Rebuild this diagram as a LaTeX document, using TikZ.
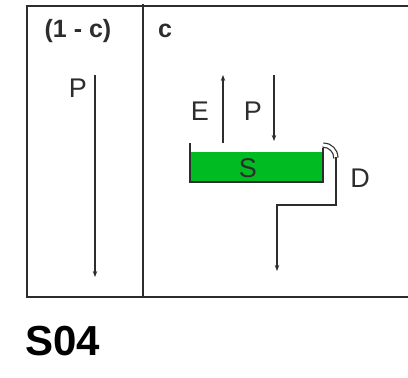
\documentclass[tikz,border=0pt]{standalone}
\usepackage{fontspec}
\setmainfont{Liberation Sans}
\usetikzlibrary{arrows.meta}
\definecolor{tankgreen}{RGB}{0,187,34}
\definecolor{inkgray}{RGB}{45,45,45}

\begin{document}
\begin{tikzpicture}[x=1pt, y=-1pt,
  frame/.style={inkgray, line width=2pt},
  flow/.style={inkgray, line width=1.4pt, -{Stealth[length=6pt, width=4.5pt]}},
  lbl/.style={text=inkgray, inner sep=0pt, font=\fontsize{27}{27}\selectfont},
  head/.style={lbl, font=\fontsize{25}{25}\selectfont\bfseries}]
  \useasboundingbox (0,0) rectangle (408,378);
  % frame
  \draw[frame] (408,6) -- (27,6) -- (27,297) -- (408,297);
  \draw[inkgray, line width=1.6pt] (143,4) -- (143,297);
  % headings
  \node[head] (oneminus) at (78,31) {(1 - c)};
  \node[head, anchor=west] (cfrac) at (158,31) {c};
  % left column
  \coordinate (ptop) at (95,75);
  \coordinate (pbot) at (95,277);
  \draw[flow] (ptop) -- (pbot);
  \node[lbl] (pleft) at (78,88) {P};
  % store
  \fill[tankgreen] (190,152) rectangle (323,182);
  \draw[inkgray, line width=1.5pt] (190,143) -- (190,182) -- (323,182) -- (323,148);
  \node[lbl] (store) at (248,168) {S};
  % evaporation and rain
  \coordinate (etop) at (223,75);
  \coordinate (ebot) at (223,143);
  \draw[flow] (ebot) -- (etop);
  \node[lbl] (evap) at (200,111) {E};
  \coordinate (rtop) at (274,75);
  \coordinate (rbot) at (274,141);
  \draw[flow] (rtop) -- (rbot);
  \node[lbl] (rain) at (253,111) {P};
  % drainage
  \draw[inkgray, line width=1.2pt, double=white, double distance=3pt]
    (323,145) arc[start angle=-90, end angle=0, radius=13];
  \coordinate (dtop) at (336,157);
  \coordinate (dbend) at (336,205);
  \coordinate (dknee) at (277,205);
  \coordinate (dbot) at (277,271);
  \draw[flow] (dtop) -- (dbend) -- (dknee) -- (dbot);
  \node[lbl] (drain) at (360,178) {D};
  % caption
  \node[lbl, anchor=west, font=\fontsize{42}{42}\selectfont\bfseries, text=black] (caption) at (25,341) {S04};
\end{tikzpicture}
\end{document}
